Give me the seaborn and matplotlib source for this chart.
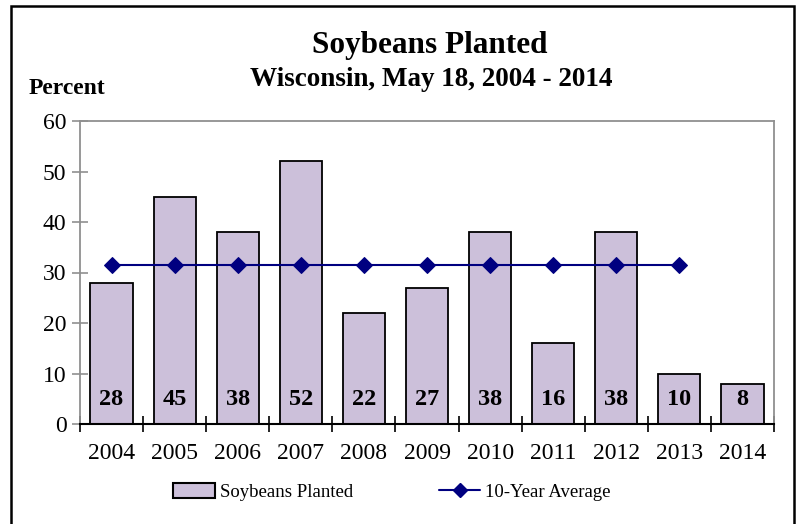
import numpy as np
import pandas as pd
import matplotlib
matplotlib.use("Agg")
import matplotlib.pyplot as plt
import seaborn as sns
from matplotlib.patches import Rectangle
from matplotlib.lines import Line2D

# Datos
anios = ["2004", "2005", "2006", "2007", "2008", "2009", "2010", "2011", "2012", "2013", "2014"]
plantado = [28, 45, 38, 52, 22, 27, 38, 16, 38, 10, 8]
promedio_anios = ["2004", "2005", "2006", "2007", "2008", "2009", "2010", "2011", "2012", "2013"]
promedio = [31.4, 31.4, 31.4, 31.4, 31.4, 31.4, 31.4, 31.4, 31.4, 31.4]
y_ticks = [0, 10, 20, 30, 40, 50, 60]

color_barra = "#CCC0DA"
color_linea = "#000080"

sns.set_style("white")
plt.rcParams['font.family'] = ['Liberation Serif', 'DejaVu Serif']
plt.rcParams['text.color'] = 'black'
plt.rcParams['xtick.color'] = 'black'
plt.rcParams['ytick.color'] = 'black'

fig = plt.figure(figsize=(7.98, 5.24), dpi=100)
ax = fig.add_axes([80 / 798, 1 - 424 / 524, (774 - 80) / 798, (424 - 121) / 524])

df = pd.DataFrame({"anio": anios, "valor": plantado})
sns.barplot(data=df, x="anio", y="valor", color=color_barra, saturation=1,
            width=0.67, edgecolor="black", linewidth=1.3, ax=ax)

pos = [anios.index(a) for a in promedio_anios]
sns.lineplot(x=pos, y=promedio, color=color_linea, marker="D", markersize=8,
             markeredgecolor=color_linea, linewidth=1.5, ax=ax)

for i, v in enumerate(plantado):
    ax.text(i, 4.8, str(v), ha="center", va="center", fontsize=17.5, fontweight="bold")

ax.set_xlim(-0.5, len(anios) - 0.5)
ax.set_ylim(0, 60)
ax.set_yticks(y_ticks)
ax.set_xlabel("")
ax.set_ylabel("")

for s in ["top", "right", "left"]:
    ax.spines[s].set_color("#909090")
    ax.spines[s].set_linewidth(1.3)
ax.spines["bottom"].set_color("black")
ax.spines["bottom"].set_linewidth(1.5)

ax.tick_params(axis="x", which="major", bottom=True, length=0, pad=14, labelsize=17)
ax.set_xticks(np.arange(-0.5, len(anios), 1.0), minor=True)
ax.tick_params(axis="x", which="minor", bottom=True, direction="inout", length=11.5,
               width=1.2, color="black")
ax.tick_params(axis="y", left=True, direction="inout", length=11.5, width=1.2,
               color="#909090", labelcolor="black", labelsize=17, pad=4)

fig.text(430 / 798, 1 - 46 / 524, "Soybeans Planted", ha="center", va="center",
         fontsize=22.5, fontweight="bold")
fig.text(431 / 798, 1 - 80 / 524, "Wisconsin, May 18, 2004 - 2014", ha="center", va="center",
         fontsize=19.5, fontweight="bold")
fig.text(67 / 798, 1 - 88 / 524, "Percent", ha="center", va="center",
         fontsize=17, fontweight="bold")

handles = [
    Rectangle((0, 0), 1, 1, facecolor=color_barra, edgecolor="black", linewidth=1.5),
    Line2D([0], [0], color=color_linea, marker="D", markersize=7, linewidth=1.5),
]
fig.legend(handles, ["Soybeans Planted", "10-Year Average"], loc="center",
           bbox_to_anchor=(392 / 798, 1 - 492 / 524), ncol=2, frameon=False,
           fontsize=13.5, handlelength=2.2, handleheight=0.8, handletextpad=0.27,
           columnspacing=4.6)

fig.patches.append(Rectangle((11 / 798, -0.05), (794 - 11) / 798, 1.05 - 6 / 524,
                             transform=fig.transFigure, fill=False,
                             edgecolor="black", linewidth=1.8))

fig.savefig("out.png", dpi=100)
